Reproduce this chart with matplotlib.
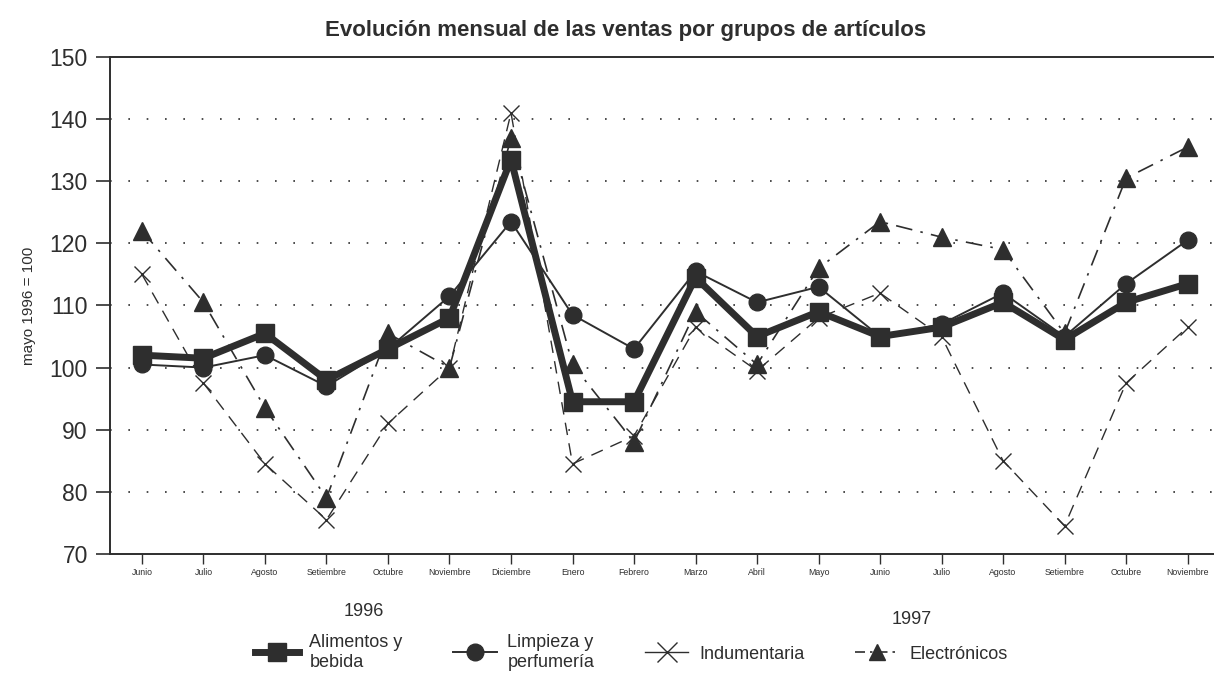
import matplotlib
matplotlib.use("Agg")
import matplotlib.pyplot as plt
from matplotlib.lines import Line2D

plt.rcParams["font.family"] = ["Liberation Sans", "DejaVu Sans"]

MONTHS = ["Junio", "Julio", "Agosto", "Setiembre", "Octubre", "Noviembre", "Diciembre",
          "Enero", "Febrero", "Marzo", "Abril", "Mayo", "Junio", "Julio", "Agosto",
          "Setiembre", "Octubre", "Noviembre"]
YEARS = ["1996", "1997"]

alimentos = [102, 101.5, 105.5, 98, 103, 108, 133.5, 94.5, 94.5, 114.5, 105, 109,
             105, 106.5, 110.5, 104.5, 110.5, 113.5]
limpieza = [100.5, 100, 102, 97, 103, 111.5, 123.5, 108.5, 103, 115.5, 110.5, 113,
            105, 107, 112, 105, 113.5, 120.5]
indumentaria = [115, 97.5, 84.5, 75.5, 91, 100, 141, 84.5, 89, 106.5, 99.5, 108,
                112, 105, 85, 74.5, 97.5, 106.5]
electronicos = [122, 110.5, 93.5, 79, 105.5, 100, 137, 100.5, 88, 109, 100.5, 116,
                123.5, 121, 119, 105.5, 130.5, 135.5]

INK = "#2e2e2e"
x = list(range(len(MONTHS)))

fig = plt.figure(figsize=(12.14, 6.83), dpi=100)
ax = fig.add_axes([0.0906, 0.189, 0.9094, 0.7275])

ax.plot(x, indumentaria, color=INK, lw=1.0, ls=(0, (9, 6)), marker="x", ms=11, mew=1.0,
        label="Indumentaria")
ax.plot(x, electronicos, color=INK, lw=1.2, ls=(0, (10, 5, 1.5, 5)), marker="^", ms=13,
        label="Electrónicos")
ax.plot(x, limpieza, color=INK, lw=1.4, marker="o", ms=12, label="Limpieza y\nperfumería")
ax.plot(x, alimentos, color=INK, lw=5, marker="s", ms=13, label="Alimentos y\nbebida")

ax.set_xlim(-0.52, 17.43)
ax.set_ylim(70, 150)
ax.set_yticks(range(70, 151, 10))
ax.tick_params(axis="y", labelsize=16.5, length=10, width=1.2, colors=INK, pad=6)
ax.set_xticks(x)
ax.set_xticklabels(MONTHS, fontsize=6.3)
ax.tick_params(axis="x", length=7, width=1, colors=INK, pad=3)
ax.set_ylabel("mayo 1996 = 100", fontsize=11, color=INK, labelpad=10)

for v in range(80, 141, 10):
    ax.axhline(v, color=INK, lw=1.2, ls=(0, (1, 10)), zorder=0)

ax.spines["right"].set_visible(False)
for s in ["left", "bottom", "top"]:
    ax.spines[s].set_color(INK)
    ax.spines[s].set_linewidth(1.4)

fig.text(0.515, 0.955, "Evolución mensual de las ventas por grupos de artículos",
         ha="center", va="center", fontsize=16, fontweight="bold", color=INK)
fig.text(0.30, 0.104, YEARS[0], ha="center", va="center", fontsize=13, color=INK)
fig.text(0.751, 0.093, YEARS[1], ha="center", va="center", fontsize=13, color=INK)

handles = [
    Line2D([], [], color=INK, lw=5, marker="s", ms=13),
    Line2D([], [], color=INK, lw=1.4, marker="o", ms=12),
    Line2D([], [], color=INK, lw=1.0, marker="x", ms=14, mew=1.0),
    Line2D([], [], color=INK, lw=1.2, ls=(0, (6, 3, 1.5, 3)), marker="^", ms=12),
]
labels = ["Alimentos y\nbebida", "Limpieza y\nperfumería", "Indumentaria", "Electrónicos"]
fig.legend(handles, labels, loc="center", bbox_to_anchor=(0.52, 0.045), ncol=4,
           frameon=False, fontsize=13, handlelength=2.4, handletextpad=0.6,
           columnspacing=2.8, labelcolor=INK)

fig.savefig("out.png", dpi=100)
